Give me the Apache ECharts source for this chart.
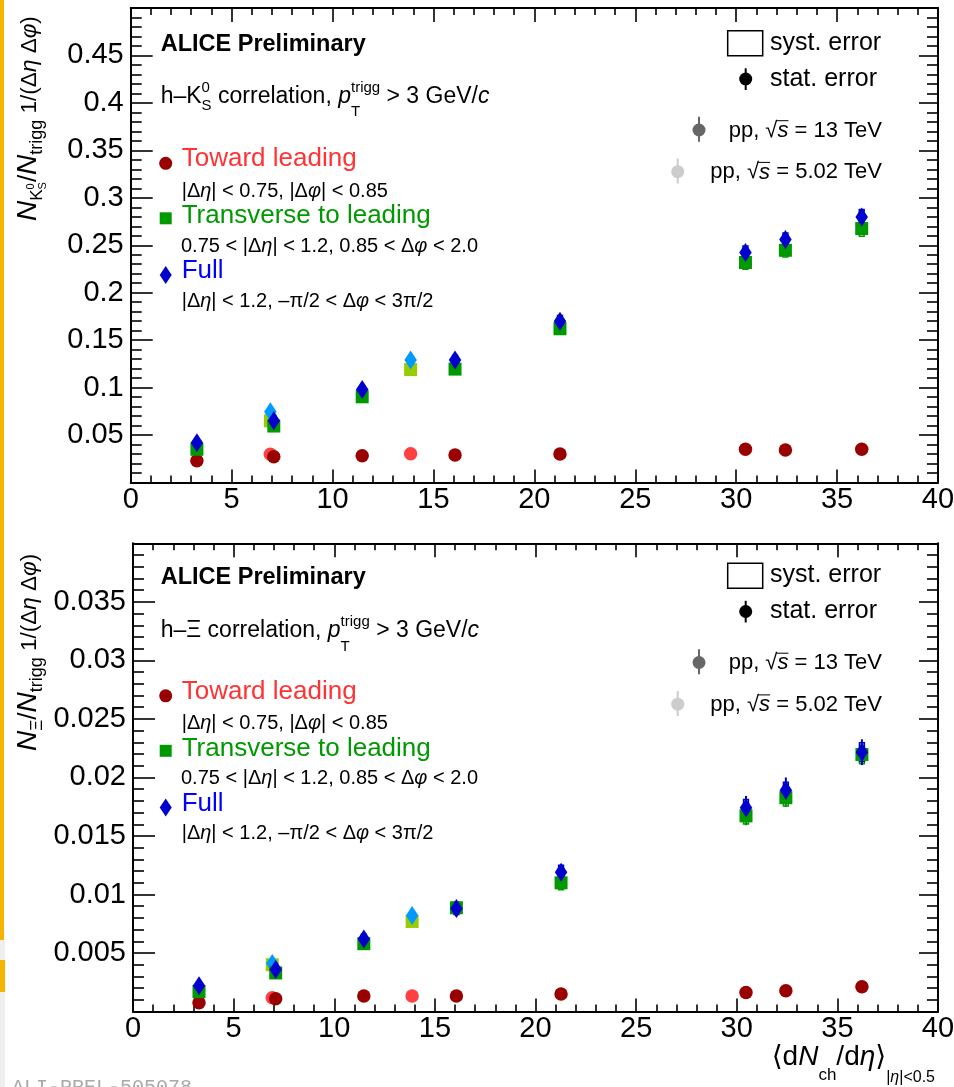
<!DOCTYPE html>
<html><head><meta charset="utf-8">
<script src="https://cdn.jsdelivr.net/npm/echarts@6/dist/echarts.min.js"></script>
<style>html,body{margin:0;padding:0;background:#fff}#c{width:954px;height:1087px}</style>
</head><body><div id="c"></div>
<script>
// ---------------- data ----------------
const xTickLabels = ['0','5','10','15','20','25','30','35','40'];
const k0YTickLabels = ['0.05','0.1','0.15','0.2','0.25','0.3','0.35','0.4','0.45'];
const xiYTickLabels = ['0.005','0.01','0.015','0.02','0.025','0.03','0.035'];

const multPP13 = [3.28, 7.09, 11.47, 16.07, 21.27, 30.46, 32.44, 36.22];
const multPP5  = [6.92, 13.87];

// h-K0S
const k0TowardPP13 = [0.023, 0.0272, 0.0282, 0.029, 0.030, 0.035, 0.0342, 0.035];
const k0TransPP13  = [0.035, 0.0595, 0.0903, 0.1195, 0.162, 0.2318, 0.2447, 0.2676];
const k0FullPP13   = [0.0419, 0.065, 0.098, 0.129, 0.170, 0.2423, 0.256, 0.2798];
const k0TowardPP5  = [0.0297, 0.0303];
const k0TransPP5   = [0.065, 0.119];
const k0FullPP5    = [0.0745, 0.129];
const k0TransStat  = [0.0015, 0.0015, 0.002, 0.002, 0.003, 0.004, 0.004, 0.004];
const k0FullStat   = [0.0015, 0.0015, 0.002, 0.002, 0.003, 0.004, 0.004, 0.005];
const k0TransSyst  = [0.002, 0.003, 0.004, 0.005, 0.005, 0.007, 0.007, 0.008];
const k0FullSyst   = [0.002, 0.003, 0.004, 0.005, 0.006, 0.007, 0.007, 0.008];

// h-Xi
const xiTowardPP13 = [0.00076, 0.0011, 0.00133, 0.00133, 0.0015, 0.00164, 0.00178, 0.00212];
const xiTransPP13  = [0.0017, 0.0033, 0.0058, 0.00887, 0.011, 0.01672, 0.01827, 0.02196];
const xiFullPP13   = [0.0022, 0.0036, 0.0062, 0.0088, 0.0119, 0.01742, 0.0189, 0.02216];
const xiTowardPP5  = [0.00118, 0.00133];
const xiTransPP5   = [0.0040, 0.0077];
const xiFullPP5    = [0.0041, 0.0082];
const xiTransStat  = [0.0002, 0.0002, 0.0003, 0.0003, 0.0004, 0.0008, 0.0008, 0.0009];
const xiFullStat   = [0.0002, 0.0002, 0.0003, 0.0003, 0.0005, 0.0010, 0.0011, 0.0011];
const xiTransSyst  = [0.0002, 0.0003, 0.0004, 0.0005, 0.0006, 0.0007, 0.0007, 0.0008];
const xiFullSyst   = [0.0002, 0.0003, 0.0004, 0.0005, 0.0006, 0.0007, 0.0007, 0.0008];

// ---------------- style ----------------
const FF = '"Liberation Sans", "DejaVu Sans", Arial, sans-serif';
const C_TOW13 = '#990000', C_TOW5 = '#ff4040';
const C_TR13 = '#009900', C_TR5 = '#99cc00';
const C_FU13 = '#0000cc', C_FU5 = '#0099ff';

const mctx = document.createElement('canvas').getContext('2d');
function run(x, y, pieces, o) {
  o = o || {};
  const kids = []; let cx = 0, pend = 0;
  for (const p of pieces) {
    const s = p.s || o.s; const c = p.c || o.c || '#000';
    const f = (p.it ? 'italic ' : '') + ((p.b || o.b) ? 'bold ' : '') + s + 'px ' + (p.ff || o.ff || FF);
    mctx.font = f; const wd = mctx.measureText(p.t).width;
    const dy = p.dy || 0;
    kids.push({type:'text', x: cx, y: dy - 0.3465 * s, silent:true,
      style:{text:p.t, font:f, fill:c, align:'left', verticalAlign:'middle'}});
    if (p.ol) kids.push({type:'line', silent:true,
      shape:{x1:cx - 1, y1:dy - 0.8 * s, x2:cx + wd, y2:dy - 0.8 * s}, style:{stroke:c, lineWidth:1}});
    if (p.st) { pend = Math.max(pend, wd); }
    else { cx += Math.max(wd, pend); pend = 0; }
  }
  return {type:'group', x: o.right ? x - cx : x, y: y, rotation: o.rot || 0, silent:true, children: kids};
}

function scat(xs, ys, sym, size, color, ai, z) {
  return {type:'scatter', xAxisIndex:ai*2, yAxisIndex:ai*2, data: xs.map((x,i)=>[x, ys[i]]),
    symbol:sym, symbolSize:size, itemStyle:{color:color, opacity:1}, z:z, silent:true, animation:false};
}
function errs(xs, ys, stat, syst, color, ai) {
  return {type:'custom', xAxisIndex:ai*2, yAxisIndex:ai*2, z:1, silent:true, animation:false,
    data: xs.map((x,i)=>[x, ys[i], stat[i], syst[i]]),
    renderItem: function (params, api) {
      const x = api.value(0), y = api.value(1), e = api.value(2), s = api.value(3);
      const a = api.coord([x, y - e]), b = api.coord([x, y + e]);
      const l = api.coord([x - 0.12, y - s]), r = api.coord([x + 0.12, y + s]);
      return {type:'group', children:[
        {type:'rect', shape:{x:l[0], y:r[1], width:r[0]-l[0], height:l[1]-r[1]}, style:{fill:'none', stroke:color, lineWidth:1.5}},
        {type:'line', shape:{x1:a[0], y1:a[1], x2:b[0], y2:b[1]}, style:{stroke:color, lineWidth:2}}
      ]};
    }};
}

function xAx(gi, pos) {
  const lab = pos === 'bottom';
  return {type:'value', gridIndex:gi, position:pos, min:0, max:40, interval:5,
    axisLine:{show:true, onZero:false, lineStyle:{color:'#000', width:2}},
    axisTick:{show:true, inside:true, length: lab ? 13 : 14, lineStyle:{color:'#000', width:1.6}},
    minorTick:{show:true, splitNumber:5, length:7, lineStyle:{color:'#000', width:1.6}},
    splitLine:{show:false}, minorSplitLine:{show:false},
    axisLabel: lab ? {show:true, fontFamily:FF, fontSize:29, color:'#000', margin:3,
      formatter: v => xTickLabels[Math.round(v/5)] ?? ''} : {show:false}};
}
function yAx(gi, pos, max, step, labels) {
  const lab = pos === 'left';
  return {type:'value', gridIndex:gi, position:pos, min:0, max:max, interval:step,
    axisLine:{show:true, onZero:false, lineStyle:{color:'#000', width:2}},
    axisTick:{show:true, inside:true, length: lab ? 22 : 19, lineStyle:{color:'#000', width:1.6}},
    minorTick:{show:true, splitNumber:5, length:11, lineStyle:{color:'#000', width:1.6}},
    splitLine:{show:false}, minorSplitLine:{show:false},
    axisLabel: lab ? {show:true, fontFamily:FF, fontSize:29, color:'#000', margin:7,
      showMinLabel:false, showMaxLabel:false,
      formatter: v => labels[Math.round(v/step) - 1] ?? ''} : {show:false}};
}

// ---------------- decorations ----------------
const G = [];
// page edge artefacts
G.push({type:'rect', silent:true, shape:{x:0, y:0, width:4, height:940}, style:{fill:'#f4b400'}});
G.push({type:'rect', silent:true, shape:{x:0, y:940, width:5, height:20}, style:{fill:'#eeeeee'}});
G.push({type:'rect', silent:true, shape:{x:0, y:960, width:5, height:32}, style:{fill:'#f4b400'}});
G.push({type:'rect', silent:true, shape:{x:0, y:992, width:5, height:95}, style:{fill:'#eeeeee'}});
G.push(run(12, 1095, [{t:'ALI-PREL-505078'}], {s:20, ff:'"Liberation Mono", monospace', c:'#aaaaaa'}));

function panel(oy, kind) {
  G.push(run(160.7, 53 + oy, [{t:'ALICE Preliminary'}], {s:23.5, b:true}));
  const cy = 104.5 + (kind === 'K' ? 0 : 534.5 - oy);
  const head = kind === 'K'
    ? [{t:'h–K'}, {t:'0', s:15, dy:-11, st:true}, {t:'S', s:15, dy:7}, {t:' correlation, '}]
    : [{t:'h–Ξ correlation, '}];
  G.push(run(160.7, cy + oy, head.concat([
    {t:'p', it:true}, {t:'trigg', s:15, dy:-11.5, st:true}, {t:'T', s:15, dy:13},
    {t:' > 3 GeV/'}, {t:'c', it:true}]), {s:23}));

  // left legend
  G.push({type:'circle', silent:true, shape:{cx:165.7, cy:163.3 + oy, r:6.5}, style:{fill:C_TOW13}});
  G.push(run(181.7, 168.3 + oy, [{t:'Toward leading'}], {s:26, c:'#ff3333'}));
  G.push(run(181.7, 198.3 + oy, [{t:'|Δ'}, {t:'η', it:true}, {t:'| < 0.75, |Δ'}, {t:'φ', it:true}, {t:'| < 0.85'}], {s:20}));
  G.push({type:'rect', silent:true, shape:{x:159.7, y:212.3 + oy, width:12, height:12}, style:{fill:C_TR13}});
  G.push(run(181.7, 225 + oy, [{t:'Transverse to leading'}], {s:26, c:'#009900'}));
  G.push(run(181, 253.3 + oy, [{t:'0.75 < |Δ'}, {t:'η', it:true}, {t:'| < 1.2, 0.85 < Δ'}, {t:'φ', it:true}, {t:' < 2.0'}], {s:20}));
  G.push({type:'polygon', silent:true, shape:{points:[[165.7, 266 + oy],[171.7, 275 + oy],[165.7, 284 + oy],[159.7, 275 + oy]]}, style:{fill:C_FU13}});
  G.push(run(181.7, 280 + oy, [{t:'Full'}], {s:26, c:'#0000ff'}));
  G.push(run(181.7, 308.3 + oy, [{t:'|Δ'}, {t:'η', it:true}, {t:'| < 1.2, –π/2 < Δ'}, {t:'φ', it:true}, {t:' < 3π/2'}], {s:20}));

  // right legend
  G.push({type:'rect', silent:true, shape:{x:727.7, y:30.7 + oy, width:35, height:25}, style:{fill:'none', stroke:'#000', lineWidth:1.5}});
  G.push(run(770, 51.7 + oy, [{t:'syst. error'}], {s:25}));
  G.push({type:'line', silent:true, shape:{x1:745.7, y1:68.3 + oy, x2:745.7, y2:90 + oy}, style:{stroke:'#000', lineWidth:2}});
  G.push({type:'circle', silent:true, shape:{cx:745.7, cy:79 + oy, r:6.5}, style:{fill:'#000'}});
  G.push(run(770, 87.3 + oy, [{t:'stat. error'}], {s:25}));
  G.push({type:'line', silent:true, shape:{x1:699, y1:116.7 + oy, x2:699, y2:141.7 + oy}, style:{stroke:'#666666', lineWidth:2}});
  G.push({type:'circle', silent:true, shape:{cx:699, cy:130 + oy, r:6.5}, style:{fill:'#666666'}});
  G.push(run(882, 138.3 + oy, [{t:'pp, '}, {t:'√'}, {t:'s', it:true, ol:true}, {t:' = 13 TeV'}], {s:22, right:true}));
  G.push({type:'line', silent:true, shape:{x1:677.7, y1:158.5 + oy, x2:677.7, y2:183.5 + oy}, style:{stroke:'#cccccc', lineWidth:2}});
  G.push({type:'circle', silent:true, shape:{cx:677.7, cy:171.7 + oy, r:6.5}, style:{fill:'#cccccc'}});
  G.push(run(882, 180 + oy, [{t:'pp, '}, {t:'√'}, {t:'s', it:true, ol:true}, {t:' = 5.02 TeV'}], {s:22, right:true}));
}
panel(0, 'K');
panel(532.5, 'X');

// y titles (rotated)
G.push(run(38, 221, [
  {t:'N', it:true, s:28}, {t:'K', s:17, dy:5}, {t:'0', s:11, dy:-3, st:true}, {t:'S', s:11, dy:9},
  {t:'/', s:26}, {t:'N', it:true, s:28}, {t:'trigg', s:18, dy:5},
  {t:' 1/(Δ'}, {t:'η', it:true}, {t:' Δ'}, {t:'φ', it:true}, {t:')'}], {s:22.5, rot:Math.PI/2}));
G.push(run(38, 751, [
  {t:'N', it:true, s:28}, {t:'Ξ', s:17, dy:5},
  {t:'/', s:26}, {t:'N', it:true, s:28}, {t:'trigg', s:18, dy:5},
  {t:' 1/(Δ'}, {t:'η', it:true}, {t:' Δ'}, {t:'φ', it:true}, {t:')'}], {s:22.5, rot:Math.PI/2}));
// x title
G.push(run(771.7, 1066.7, [
  {t:'⟨d'}, {t:'N', it:true}, {t:'ch', s:17, dy:15}, {t:'/d'}, {t:'η', it:true}, {t:'⟩'},
  {t:'|', s:16, dy:16}, {t:'η', s:16, dy:16, it:true}, {t:'|<0.5', s:16, dy:16}], {s:28}));

// ---------------- chart ----------------
const chart = echarts.init(document.getElementById('c'), null, {renderer:'canvas'});
chart.setOption({
  animation:false,
  backgroundColor:'#ffffff',
  grid:[
    {left:130.7, top:8, width:807.3, height:474.5, outerBoundsMode:'none'},
    {left:133, top:543.3, width:805, height:468.3, outerBoundsMode:'none'}
  ],
  xAxis:[xAx(0,'bottom'), xAx(0,'top'), xAx(1,'bottom'), xAx(1,'top')],
  yAxis:[yAx(0,'left',0.5,0.05,k0YTickLabels), yAx(0,'right',0.5,0.05,k0YTickLabels),
         yAx(1,'left',0.04,0.005,xiYTickLabels), yAx(1,'right',0.04,0.005,xiYTickLabels)],
  series:[
    errs(multPP13, k0TransPP13, k0TransStat, k0TransSyst, C_TR13, 0),
    errs(multPP13, k0FullPP13, k0FullStat, k0FullSyst, C_FU13, 0),
    scat(multPP5, k0TowardPP5, 'circle', 13.5, C_TOW5, 0, 2),
    scat(multPP5, k0TransPP5, 'rect', 13, C_TR5, 0, 3),
    scat(multPP5, k0FullPP5, 'diamond', [12.5, 19], C_FU5, 0, 4),
    scat(multPP13, k0TowardPP13, 'circle', 13.5, C_TOW13, 0, 5),
    scat(multPP13, k0TransPP13, 'rect', 13, C_TR13, 0, 6),
    scat(multPP13, k0FullPP13, 'diamond', [12.5, 19], C_FU13, 0, 7),

    errs(multPP13, xiTransPP13, xiTransStat, xiTransSyst, C_TR13, 1),
    errs(multPP13, xiFullPP13, xiFullStat, xiFullSyst, C_FU13, 1),
    scat(multPP5, xiTowardPP5, 'circle', 13.5, C_TOW5, 1, 2),
    scat(multPP5, xiTransPP5, 'rect', 13, C_TR5, 1, 3),
    scat(multPP5, xiFullPP5, 'diamond', [12.5, 19], C_FU5, 1, 4),
    scat(multPP13, xiTowardPP13, 'circle', 13.5, C_TOW13, 1, 5),
    scat(multPP13, xiTransPP13, 'rect', 13, C_TR13, 1, 6),
    scat(multPP13, xiFullPP13, 'diamond', [12.5, 19], C_FU13, 1, 7)
  ],
  graphic: G
});
</script></body></html>
